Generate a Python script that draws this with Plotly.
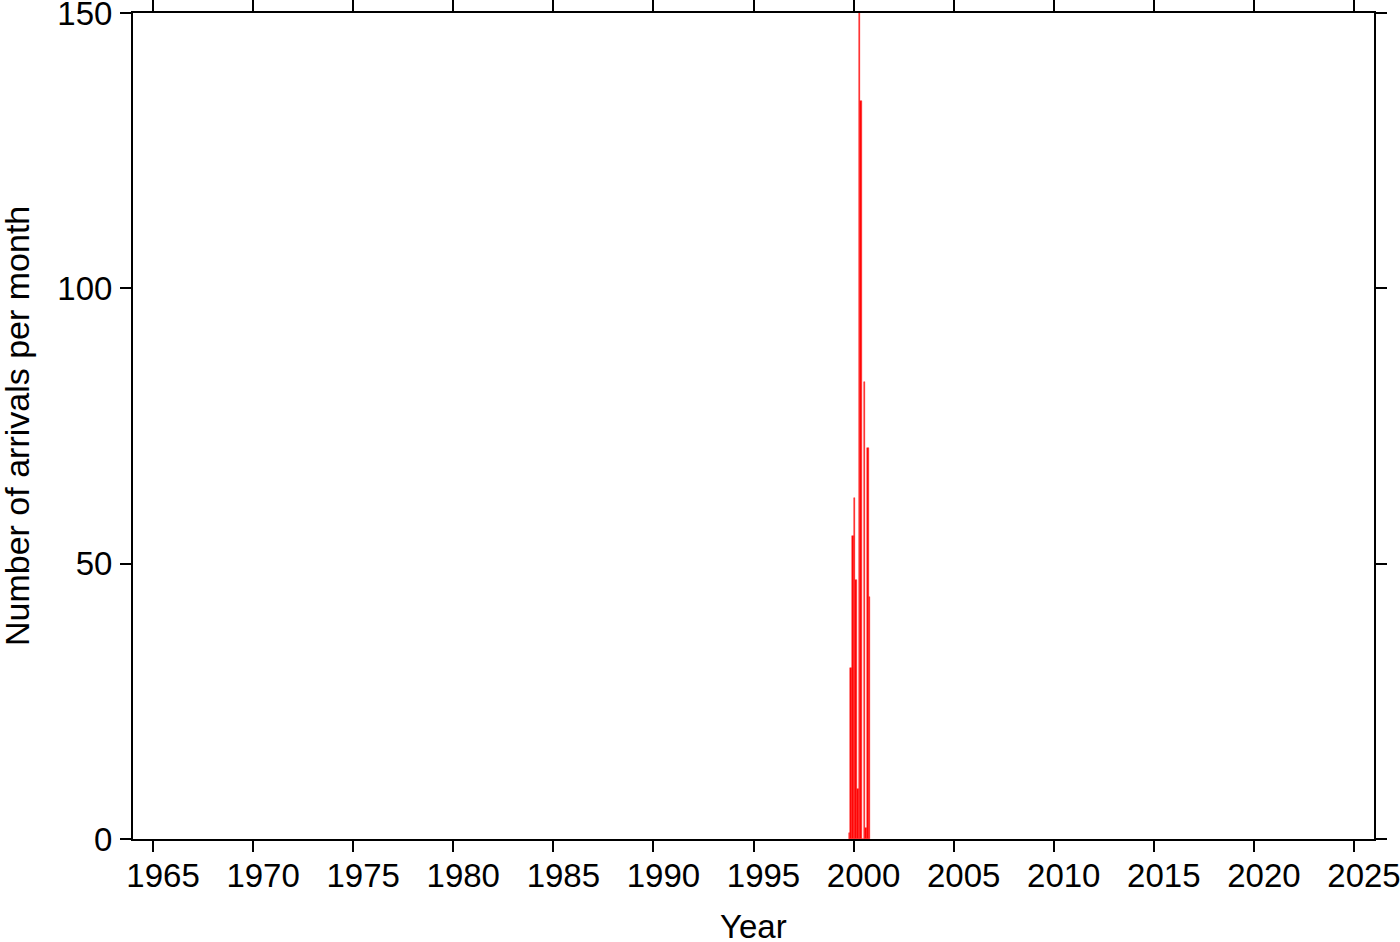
import plotly.graph_objects as go

months = ["1999-10", "1999-11", "1999-12", "2000-01", "2000-02", "2000-03",
          "2000-04", "2000-05", "2000-06", "2000-07", "2000-08", "2000-09", "2000-10"]
counts = [1, 31, 55, 62, 47, 9, 150, 134, 0, 83, 2, 71, 44]

x_tick_years = [str(y) for y in range(1965, 2030, 5)]
y_ticks = [0, 50, 100, 150]
x_title = "Year"
y_title = "Number of arrivals per month"

FONT = "Liberation Sans, Arial, Helvetica, sans-serif"
MONTH_MS = 30.4 * 24 * 3600 * 1000

W, H = 1400, 942
ML, MR, MT, MB = 133, 26, 13, 103
PW, PH = W - ML - MR, H - MT - MB

fig = go.Figure()
fig.add_trace(go.Bar(
    x=months, y=counts,
    xperiod="M1", xperiodalignment="middle",
    width=MONTH_MS,
    marker=dict(color="#ff0000", line=dict(color="#ff2a2a", width=0.5)),
    showlegend=False,
))

fig.update_layout(
    width=W, height=H,
    margin=dict(l=ML, r=MR, t=MT, b=MB, autoexpand=False),
    paper_bgcolor="white", plot_bgcolor="white",
    font=dict(family=FONT, size=33, color="black"),
    bargap=0,
)
fig.update_xaxes(
    type="date", automargin=False,
    range=["1964-01-01", "2026-01-01"],
    tickvals=[f"{y}-01-01" for y in x_tick_years],
    ticktext=x_tick_years,
    tickfont=dict(size=33),
    ticklabelshift=10, ticklabelstandoff=-5, ticklabeloverflow="allow",
    ticks="outside", ticklen=11, tickwidth=1.5, tickcolor="black",
    showline=True, linecolor="black", linewidth=2, mirror="ticks",
    showgrid=False, zeroline=False,
)
fig.update_yaxes(
    automargin=False,
    range=[0, 150],
    tickvals=y_ticks,
    tickfont=dict(size=33),
    ticklabelstandoff=1, ticklabeloverflow="allow",
    ticks="outside", ticklen=11, tickwidth=1.5, tickcolor="black",
    showline=True, linecolor="black", linewidth=2, mirror="ticks",
    showgrid=False, zeroline=False,
)

fig.add_annotation(text=x_title, xref="paper", yref="paper",
                   x=0.5, y=-87 / PH, xanchor="center", yanchor="middle",
                   showarrow=False, font=dict(size=33))
fig.add_annotation(text=y_title, xref="paper", yref="paper",
                   x=-(ML - 17) / PW, y=0.5, xanchor="center", yanchor="middle",
                   textangle=-90, showarrow=False, font=dict(size=34))

fig.write_html("out.html", config={"displayModeBar": False},
               post_script="document.body.style.margin='0';")
